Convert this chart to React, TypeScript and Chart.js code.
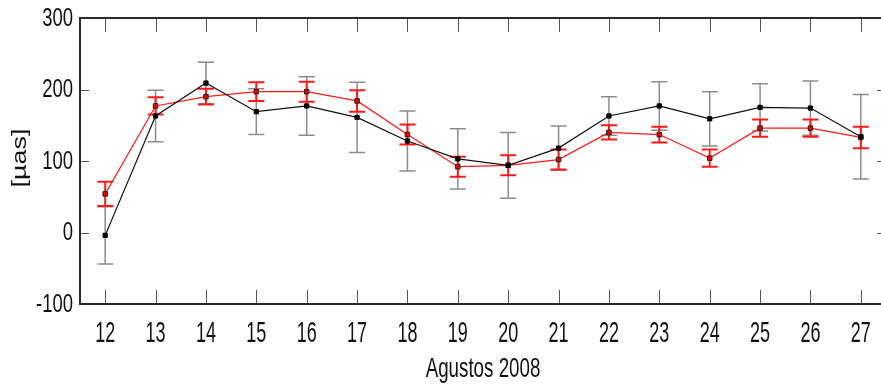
import { useEffect, useRef } from "react";
import { Chart, registerables } from "chart.js";

Chart.register(...registerables);

const days = ["12", "13", "14", "15", "16", "17", "18", "19", "20", "21", "22", "23", "24", "25", "26", "27"];
const blackValues = [-4, 163, 209, 169, 177, 161, 128, 103, 94, 118, 163, 177, 159, 175, 174, 134];
const blackErrors = [40, 36, 29, 32, 41, 49, 42, 42, 46, 31, 27, 34, 38, 33, 38, 59];
const redValues = [54, 177, 190, 197, 197, 184, 137, 92, 94, 102, 140, 137, 104, 146, 146, 133];
const redErrors = [17, 12, 11, 13, 14, 15, 14, 14, 14, 14, 10, 11, 12, 12, 12, 15];
const yMin = -100;
const yMax = 300;
const yStep = 100;
const xTitle = "Agustos 2008";
const yTitle = "[µas]";

const FONT = "'Liberation Sans', Arial, sans-serif";

const errorBarPlugin = {
  id: "errorBars",
  beforeDatasetsDraw(chart: any) {
    const ctx = chart.ctx;
    const xs = chart.scales.x;
    const ys = chart.scales.y;
    const series = [
      { values: blackValues, errors: blackErrors, color: "#8c8c8c", width: 1.5 },
      { values: redValues, errors: redErrors, color: "#ff1a1a", width: 2 },
    ];
    ctx.save();
    for (const s of series) {
      ctx.strokeStyle = s.color;
      ctx.lineWidth = s.width;
      s.values.forEach((v, i) => {
        const x = xs.getPixelForValue(i);
        const yt = ys.getPixelForValue(v + s.errors[i]);
        const yb = ys.getPixelForValue(v - s.errors[i]);
        ctx.beginPath();
        ctx.moveTo(x, yt);
        ctx.lineTo(x, yb);
        ctx.moveTo(x - 8, yt);
        ctx.lineTo(x + 8, yt);
        ctx.moveTo(x - 8, yb);
        ctx.lineTo(x + 8, yb);
        ctx.stroke();
      });
    }
    ctx.restore();
  },
};

function drawScaledText(
  ctx: CanvasRenderingContext2D,
  text: string,
  x: number,
  y: number,
  size: number,
  sx: number,
  align: CanvasTextAlign,
  baseline: CanvasTextBaseline,
  rotate = 0
) {
  ctx.save();
  ctx.translate(x, y);
  if (rotate) ctx.rotate(rotate);
  ctx.scale(sx, 1);
  ctx.font = `${size}px ${FONT}`;
  ctx.fillStyle = "#111";
  ctx.textAlign = align;
  ctx.textBaseline = baseline;
  ctx.fillText(text, 0, 0);
  ctx.restore();
}

const framePlugin = {
  id: "frame",
  afterDraw(chart: any) {
    const ctx = chart.ctx;
    const { left, right, top, bottom } = chart.chartArea;
    const xs = chart.scales.x;
    const ys = chart.scales.y;
    ctx.save();
    ctx.strokeStyle = "#555";
    ctx.lineWidth = 1;
    ctx.beginPath();
    xs.ticks.forEach((_t: any, i: number) => {
      const x = Math.round(xs.getPixelForTick(i)) + 0.5;
      ctx.moveTo(x, bottom);
      ctx.lineTo(x, bottom - 14);
      ctx.moveTo(x, top);
      ctx.lineTo(x, top + 14);
    });
    ys.ticks.forEach((_t: any, i: number) => {
      const y = Math.round(ys.getPixelForTick(i)) + 0.5;
      ctx.moveTo(left, y);
      ctx.lineTo(left + 9, y);
      ctx.moveTo(right, y);
      ctx.lineTo(right - 9, y);
    });
    ctx.stroke();
    ctx.strokeStyle = "#2a2a2a";
    ctx.lineWidth = 2;
    ctx.strokeRect(left, top, right - left, bottom - top);
    ctx.restore();

    // condensed tick labels and axis titles, positioned by the scales
    xs.ticks.forEach((t: any, i: number) => {
      const x = xs.getPixelForTick(i);
      drawScaledText(ctx, String(t.label), x, bottom + 38, 30, 0.6, "center", "alphabetic");
    });
    ys.ticks.forEach((t: any, i: number) => {
      const y = ys.getPixelForTick(i);
      drawScaledText(ctx, String(t.label), left - 7, y + 1, 25, 0.74, "right", "middle");
    });
    drawScaledText(ctx, xTitle, (left + right) / 2, bottom + 73, 28, 0.67, "center", "alphabetic");
    drawScaledText(ctx, yTitle, 20, (top + bottom) / 2 - 3, 21, 1.28, "center", "middle", -Math.PI / 2);
  },
};

export default function App() {
  const ref = useRef<HTMLCanvasElement>(null);
  useEffect(() => {
    if (!ref.current) return;
    const chart = new Chart(ref.current, {
      type: "line",
      data: {
        labels: days,
        datasets: [
          {
            label: "black",
            data: blackValues,
            borderColor: "#111",
            borderWidth: 1.2,
            backgroundColor: "#000",
            pointStyle: "rect",
            pointRadius: 3,
            pointBorderColor: "#000",
            pointBackgroundColor: "#000",
            pointBorderWidth: 1,
            tension: 0,
          },
          {
            label: "red",
            data: redValues,
            borderColor: "#ff1a1a",
            borderWidth: 1.2,
            backgroundColor: "#e00",
            pointStyle: "rect",
            pointRadius: 3.2,
            pointBorderColor: "#222",
            pointBackgroundColor: "#ee0000",
            pointBorderWidth: 1,
            tension: 0,
          },
        ],
      },
      options: {
        responsive: false,
        animation: false,
        layout: { padding: { top: 18, right: 6, left: 0, bottom: 0 } },
        plugins: { legend: { display: false }, tooltip: { enabled: false } },
        scales: {
          x: {
            type: "category",
            offset: true,
            grid: { display: false, drawTicks: false },
            border: { display: false },
            ticks: { display: false, autoSkip: false },
            title: { display: false, text: xTitle },
            afterFit(scale: any) {
              scale.height = 87;
            },
          },
          y: {
            min: yMin,
            max: yMax,
            grid: { display: false, drawTicks: false },
            border: { display: false },
            ticks: { display: false, stepSize: yStep },
            title: { display: false, text: yTitle },
            afterFit(scale: any) {
              scale.width = 80;
            },
          },
        },
      },
      plugins: [errorBarPlugin, framePlugin],
    });
    return () => chart.destroy();
  }, []);
  return (
    <div style={{ position: "fixed", left: 0, top: 0, width: 881, height: 391, overflow: "hidden", background: "#fff" }}>
      <canvas ref={ref} width={892} height={391} style={{ display: "block" }} />
    </div>
  );
}
